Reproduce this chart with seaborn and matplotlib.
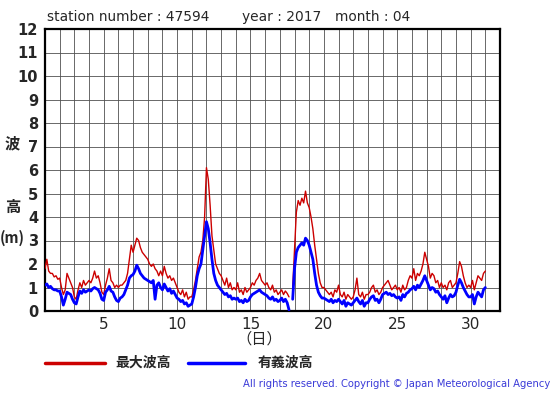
import numpy as np
import pandas as pd
import matplotlib
matplotlib.use("Agg")
import matplotlib.pyplot as plt
from matplotlib.lines import Line2D
import seaborn as sns

nan = np.nan
# 3-hourly readings, April 1 00h .. April 31 00h (= end of Apr 30)
max_wave = [
    1.8, 2.2, 1.7, 1.6, 1.6, 1.45, 1.5, 1.35,
    1.4, 1.0, 0.7, 0.9, 1.6, 1.4, 1.2, 1.0,
    0.6, 0.5, 0.9, 1.2, 1.0, 1.3, 1.1, 1.2,
    1.3, 1.2, 1.4, 1.7, 1.4, 1.5, 1.2, 0.8,
    0.7, 1.1, 1.4, 1.8, 1.3, 1.2, 1.0, 1.1,
    1.0, 1.1, 1.1, 1.2, 1.3, 1.6, 2.2, 2.8,
    2.5, 2.8, 3.1, 3.0, 2.7, 2.5, 2.4, 2.3,
    2.2, 2.0, 1.9, 2.0, 1.8, 1.7, 1.5, 1.7,
    1.5, 1.9, 1.6, 1.4, 1.5, 1.3, 1.4, 1.2,
    1.0, 0.8, 0.7, 0.9, 0.6, 0.8, 0.5, 0.6,
    0.6, 0.9, 1.3, 1.8, 2.3, 2.5, 3.0, 4.0,
    6.1, 5.6, 4.5, 3.2, 2.6, 2.0, 1.8, 1.6,
    1.5, 1.3, 1.1, 1.4, 1.0, 1.2, 0.9, 1.0,
    0.9, 1.2, 0.8, 0.9, 0.7, 1.0, 0.8, 0.9,
    1.0, 1.2, 1.1, 1.3, 1.4, 1.6, 1.3, 1.2,
    1.1, 1.2, 1.0, 0.9, 1.1, 0.8, 0.9, 0.7,
    0.8, 0.9, 0.7, 0.85, 0.75, 0.6, nan, 1.0,
    2.6, 4.2, 4.7, 4.5, 4.8, 4.6, 5.1, 4.6,
    4.4, 4.0, 3.5, 2.8, 2.2, 1.6, 1.2, 1.0,
    1.0, 0.9, 0.8, 0.7, 0.8, 0.6, 0.9, 0.8,
    1.1, 0.7, 0.6, 0.8, 0.5, 0.7, 0.6, 0.5,
    0.6, 0.9, 1.4, 0.7, 0.6, 0.8, 0.5, 0.7,
    0.7, 0.8, 1.0, 1.1, 0.8, 0.9, 0.7, 0.8,
    1.0, 1.1, 1.2, 1.3, 1.1, 0.9, 1.0, 1.1,
    0.9, 1.0, 0.8, 1.1, 0.9, 1.0, 1.3, 1.5,
    1.4, 1.8, 1.3, 1.6, 1.5, 1.7, 2.0, 2.5,
    2.2, 1.9, 1.4, 1.6, 1.5, 1.2, 1.3, 1.0,
    1.2, 1.0, 1.1, 0.9, 1.2, 1.3, 1.0, 1.1,
    1.2, 1.6, 2.1, 1.9, 1.5, 1.2, 1.0, 1.1,
    1.0, 1.3, 0.9, 1.2, 1.5, 1.4, 1.3, 1.6,
    1.7,
]
sig_wave = [
    1.1, 1.15, 1.0, 1.05, 0.95, 0.9, 0.9, 0.85,
    0.85, 0.6, 0.25, 0.5, 0.8, 0.75, 0.7, 0.5,
    0.35, 0.3, 0.6, 0.85, 0.75, 0.9, 0.8, 0.85,
    0.9, 0.85, 0.95, 1.0, 0.95, 0.9, 0.75, 0.5,
    0.45, 0.8, 0.9, 1.05, 0.85, 0.8, 0.6, 0.45,
    0.4, 0.55, 0.6, 0.7, 0.9, 1.1, 1.4, 1.5,
    1.55, 1.7, 1.95, 1.8, 1.6, 1.5, 1.4, 1.35,
    1.3, 1.25, 1.2, 1.3, 0.5, 1.1, 1.2, 1.0,
    0.9, 1.15, 1.0, 0.85, 0.95, 0.75, 0.85, 0.7,
    0.55, 0.5, 0.4, 0.45, 0.3, 0.35, 0.2, 0.25,
    0.3, 0.6, 1.0, 1.5, 1.8, 2.0, 2.6, 3.2,
    3.8, 3.5, 2.9, 2.2, 1.6, 1.3, 1.1, 1.0,
    0.9, 0.8, 0.7, 0.75, 0.6, 0.65, 0.5, 0.55,
    0.5, 0.55, 0.4, 0.45, 0.35, 0.5, 0.4, 0.45,
    0.6, 0.7, 0.75, 0.8, 0.85, 0.9, 0.8, 0.75,
    0.7, 0.65, 0.55, 0.5, 0.6, 0.45, 0.5, 0.4,
    0.45, 0.55, 0.4, 0.5, 0.35, 0.05, nan, 0.5,
    1.8, 2.5, 2.7, 2.8, 2.9, 2.8, 3.1, 3.0,
    2.8, 2.5, 2.2, 1.6, 1.1, 0.8, 0.65, 0.55,
    0.55, 0.5, 0.45, 0.4, 0.5, 0.35, 0.45, 0.4,
    0.5, 0.4, 0.3, 0.45, 0.2, 0.35, 0.3, 0.25,
    0.35, 0.45, 0.55, 0.4, 0.3, 0.45, 0.2, 0.35,
    0.35, 0.5, 0.6, 0.65, 0.45, 0.5, 0.35, 0.5,
    0.7, 0.75, 0.8, 0.7, 0.75, 0.65, 0.7, 0.6,
    0.55, 0.6, 0.45, 0.7, 0.6, 0.75, 0.8, 0.9,
    0.95, 1.05, 0.9, 1.1, 1.0, 1.15, 1.3, 1.5,
    1.3, 1.1, 0.9, 1.0, 0.95, 0.8, 0.85, 0.7,
    0.6, 0.5, 0.65, 0.35, 0.55, 0.7, 0.6, 0.65,
    0.8, 1.1, 1.35, 1.2, 1.0, 0.85, 0.7, 0.6,
    0.6, 0.7, 0.3, 0.6, 0.8, 0.7, 0.6, 0.9,
    1.0,
]
day_ticks = [5, 10, 15, 20, 25, 30]
height_ticks = list(range(0, 13))
title_parts = ["station number : 47594", "year : 2017", "month : 04"]
legend_labels = ["最大波高", "有義波高"]
copyright_text = "All rights reserved. Copyright © Japan Meteorological Agency"

days = 1 + np.arange(len(max_wave)) / 8.0
df = pd.DataFrame({"day": days, "max": max_wave, "sig": sig_wave})
df["seg"] = df["max"].isna().cumsum()
df = df.dropna()

sns.set_style("white")
plt.rcParams["font.family"] = ["DejaVu Sans"]
CJK = ["Noto Sans CJK JP", "DejaVu Sans"]

W, H = 555, 395
fig = plt.figure(figsize=(W / 100, H / 100), dpi=100)
L, R, T, B = 45, 500, 29, 311
ax = fig.add_axes([L / W, 1 - B / H, (R - L) / W, (B - T) / H])

sns.lineplot(data=df, x="day", y="max", units="seg", estimator=None,
             color="#cc0000", lw=1.0, ax=ax, legend=False, zorder=3)
sns.lineplot(data=df, x="day", y="sig", units="seg", estimator=None,
             color="#0000ff", lw=2.0, ax=ax, legend=False, zorder=4)

ax.set_xlim(1, 32)
ax.set_ylim(0, 12)
ax.set_xticks(day_ticks)
ax.set_xticks(np.arange(1, 33), minor=True)
ax.set_yticks(height_ticks)
ax.set_yticklabels([str(v) for v in height_ticks], fontweight="bold", fontsize=10.5)
ax.set_xticklabels([str(v) for v in day_ticks], fontsize=11)
ax.tick_params(axis="both", which="both", length=0)
ax.tick_params(axis="y", pad=5)
ax.tick_params(axis="x", pad=4)
ax.grid(True, which="both", color="#505050", lw=0.6)
ax.set_axisbelow(True)
ax.set_xlabel("")
ax.set_ylabel("")
for s in ax.spines.values():
    s.set_color("black")
    s.set_linewidth(1.6)

def px(x, y):
    return x / W, 1 - y / H

for xp, part in zip([47, 242, 335], title_parts):
    fig.text(*px(xp, 17), part, fontsize=9.9, va="center", ha="left")
fig.text(*px(12.5, 143), "波", family=CJK, fontsize=11, fontweight="bold", ha="center", va="center")
fig.text(*px(12.5, 207), "高", family=CJK, fontsize=11, fontweight="bold", ha="center", va="center")
fig.text(*px(12.5, 238), "(m)", family=CJK, fontsize=10.5, fontweight="bold", ha="center", va="center")
fig.text(*px(259, 339), "（日）", family=CJK, fontsize=11, ha="center", va="center")

fig.add_artist(Line2D([45 / W, 105 / W], [1 - 363 / H] * 2, color="#cc0000", lw=2.5))
fig.text(*px(115, 363), legend_labels[0], family=CJK, fontsize=10, fontweight="bold", va="center")
fig.add_artist(Line2D([188 / W, 245 / W], [1 - 363 / H] * 2, color="#0000ff", lw=2.5))
fig.text(*px(258, 363), legend_labels[1], family=CJK, fontsize=10, fontweight="bold", va="center")
fig.text(*px(550, 384), copyright_text, fontsize=7.2, color="#3a3ad8", ha="right", va="center")

fig.savefig("out.png", dpi=100)
